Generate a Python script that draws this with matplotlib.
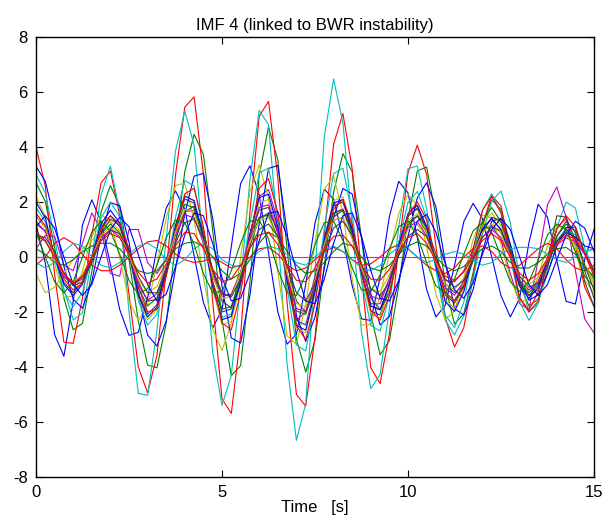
import numpy as np
import matplotlib
matplotlib.use("Agg")
import matplotlib.pyplot as plt

plt.rcParams['font.family'] = ['Liberation Sans', 'DejaVu Sans']
plt.rcParams['axes.unicode_minus'] = False

# time axis, one sample every 0.25 s
t = np.arange(0, 15.001, 0.25)

# --- IMF 4 curves (61 values each) ---
b1 = [1.2, -0.22, -2.82, -3.61, -1.61, 1.17, 2.08, 1.29,
      -0.27, -1.91, -2.85, -2.74, -1.48, 0.31, 1.78, 2.4,
      1.73, 0.05, -1.65, -2.58, -1.92, 0.38, 2.67, 3.32,
      2.26, 0.15, -1.99, -3.17, -2.81, -1.0, 1.24, 2.47,
      2.1, 0.71, -1.05, -2.25, -2.31, -0.73, 1.48, 2.75,
      2.33, 0.7, -1.18, -2.18, -1.76, -0.31, 1.29, 1.95,
      1.39, 0.0, -1.41, -2.18, -1.51, 0.52, 1.92, 1.44,
      -0.14, -1.61, -1.71, -0.09, 1.0]
g1 = [2.7, 2.02, 0.35, -1.5, -2.65, -2.41, -0.54, 1.64,
      2.6, 1.85, -0.09, -2.33, -3.93, -4.03, -2.42, 0.45,
      3.11, 4.46, 3.73, 0.97, -2.29, -4.32, -3.95, -0.93,
      2.97, 4.73, 3.53, 0.28, -2.98, -4.18, -3.02, -0.31,
      2.36, 3.76, 3.1, 0.69, -2.08, -3.56, -3.04, -1.06,
      1.41, 3.13, 3.27, 1.49, -1.01, -2.44, -2.06, -0.57,
      1.16, 2.08, 1.73, 0.46, -1.0, -1.78, -1.53, -0.62,
      0.43, 0.99, 0.66, -0.29, -0.8]
r1 = [4.0, 2.58, -0.63, -3.1, -3.14, -1.49, 0.81, 2.7,
      3.12, 1.52, -1.37, -4.0, -4.94, -3.58, -0.52, 2.99,
      5.45, 5.82, 3.02, -1.63, -5.16, -5.69, -2.86, 1.63,
      5.12, 5.66, 2.89, -1.66, -5.0, -5.42, -2.92, 0.83,
      4.1, 5.22, 3.2, -0.69, -4.03, -4.6, -2.79, 0.37,
      3.06, 4.07, 3.0, 0.4, -2.2, -3.27, -2.57, -0.73,
      1.16, 2.24, 1.85, 0.2, -1.47, -1.95, -1.27, -0.01,
      1.08, 1.4, 0.41, -1.1, -1.8]
c1 = [3.0, 2.33, 0.68, -1.16, -2.29, -2.03, -0.03, 2.27,
      3.3, 1.66, -1.98, -4.96, -5.03, -2.69, 0.67, 3.86,
      5.3, 4.07, 0.43, -3.47, -5.4, -4.3, -0.97, 2.81,
      5.33, 4.81, 0.88, -3.91, -6.67, -5.34, -0.53, 4.36,
      6.47, 4.88, 1.13, -2.74, -4.79, -4.27, -1.88, 1.11,
      3.21, 3.31, 1.76, -0.46, -2.3, -2.83, -2.13, -0.8,
      0.83, 2.03, 2.4, 1.25, -0.77, -2.0, -1.69, -0.43,
      1.07, 2.0, 1.78, 0.33, -0.5]
m2 = [0.3, 0.78, 0.75, -0.3, -0.5, 0.5, 1.6, 1.0,
      -0.6, -0.7, 1.0, 1.0, -0.2, -0.6, -0.1, 0.9,
      1.65, 1.7, 0.8, -0.5, -1.35, -1.4, -0.6, 0.8,
      2.2, 2.45, 1.3, -0.8, -2.3, -2.0, -0.7, 0.7,
      1.6, 1.75, 0.9, -0.6, -1.7, -1.7, -0.8, 0.5,
      1.5, 1.75, 1.0, -0.2, -0.85, -0.9, -0.5, 0.3,
      1.0, 1.15, 0.6, -0.6, -1.7, -1.9, -0.1, 1.9,
      2.55, 1.45, -0.5, -2.25, -2.76]
y1 = [2.2, 1.48, -0.23, -1.47, -1.42, -0.5, 0.72, 1.52,
      1.35, -0.02, -1.6, -2.3, -1.74, -0.29, 1.4, 2.6,
      2.68, 1.37, -0.73, -2.63, -3.4, -2.42, -0.03, 2.37,
      3.35, 2.15, -0.54, -2.87, -3.17, -1.72, 0.54, 2.46,
      2.94, 1.59, -0.79, -2.48, -2.45, -1.41, 0.12, 1.58,
      2.28, 1.86, 0.37, -1.36, -2.28, -1.97, -0.78, 0.63,
      1.52, 1.42, 0.46, -0.79, -1.62, -1.54, -0.7, 0.4,
      1.13, 1.04, 0.16, -0.85, -1.3]
k1 = [1.5, 1.07, 0.0, -0.92, -1.3, -0.92, 0.0, 1.07,
      1.5, 1.1, 0.1, -1.32, -2.08, -1.74, -0.46, 1.1,
      2.11, 1.96, 0.68, -0.95, -2.0, -1.89, -0.76, 0.68,
      1.71, 1.8, 0.86, -0.81, -2.31, -2.47, -1.17, 0.65,
      1.87, 2.0, 0.95, -0.68, -1.96, -2.11, -1.1, 0.4,
      1.49, 1.78, 1.06, -0.27, -1.38, -1.68, -1.07, 0.1,
      1.02, 1.4, 0.99, 0.0, -0.99, -1.4, -1.02, -0.1,
      1.5, 1.45, 0.6, -0.9, -1.8]
b2 = [3.3, 2.75, 1.35, -0.34, -1.54, -1.86, -0.9, 0.78,
      1.98, 1.86, 0.54, -1.34, -2.84, -3.24, -2.33, -0.45,
      1.58, 2.94, 3.04, 1.41, -1.06, -2.94, -3.13, -1.4,
      1.22, 3.22, 3.33, 0.89, -2.13, -3.07, -2.19, -0.42,
      1.43, 2.49, 2.29, 0.69, -1.33, -2.47, -2.16, -0.89,
      0.75, 2.15, 2.7, 1.82, -0.17, -1.88, -2.11, -1.18,
      0.22, 1.3, 1.41, 0.48, -0.83, -1.57, -1.38, -0.59,
      0.4, 1.07, 1.09, 0.14, -0.5]
g2 = [0.8, 0.57, 0.0, -0.71, -1.0, -0.71, 0.0, 0.85,
      1.2, 0.88, 0.08, -1.13, -1.78, -1.49, -0.4, 1.0,
      1.92, 1.78, 0.62, -0.9, -1.9, -1.8, -0.72, 0.58,
      1.44, 1.52, 0.72, -0.68, -1.96, -2.09, -0.99, 0.56,
      1.6, 1.71, 0.81, -0.62, -1.78, -1.92, -1.0, 0.33,
      1.25, 1.49, 0.89, -0.26, -1.3, -1.58, -1.01, 0.13,
      1.31, 1.8, 1.28, 0.0, -0.92, -1.3, -0.95, -0.08,
      0.76, 1.19, 0.97, 0.19, -0.59]
r2 = [-0.3, 0.0, 0.5, 0.7, 0.5, 0.1, -0.3, -0.5,
      -0.5, -0.3, 0.0, 0.3, 0.55, 0.6, 0.4, 0.1,
      -0.1, -0.2, -0.15, 0.0, -0.2, -0.4, -0.3, 0.0,
      0.3, 0.35, 0.1, -0.3, -0.5, -0.4, -0.1, 0.2,
      0.35, 0.2, -0.1, -0.3, -0.25, 0.0, 0.3, 0.45,
      0.3, 0.0, -0.3, -0.5, -0.6, -0.4, 0.0, 0.3,
      0.4, 0.2, -0.2, -0.4, -0.3, 0.0, 0.3, 0.5,
      0.3, -0.1, -0.4, -0.5, -0.3]
c2 = [1.8, 1.28, 0.0, -1.28, -1.8, -1.28, 0.0, 1.42,
      2.0, 1.46, 0.14, -1.58, -2.48, -2.08, -0.55, 1.45,
      2.78, 2.58, 0.9, -1.04, -2.19, -2.07, -0.83, 1.22,
      3.06, 3.23, 1.53, -1.12, -3.2, -3.42, -1.62, 1.05,
      3.03, 3.23, 1.53, -0.87, -2.49, -2.69, -1.4, 0.53,
      1.99, 2.38, 1.42, -0.42, -2.11, -2.57, -1.64, 0.16,
      1.68, 2.3, 1.63, 0.0, -1.63, -2.3, -1.68, -0.07,
      0.63, 0.99, 0.81, 0.16, 0.3]
m_flat = [0.0] * len(t)
y2 = [-0.6, -1.3, -1.1, -0.6, -0.1, 0.3, 0.6, 1.0,
      1.3, 0.95, 0.09, -1.45, -2.28, -1.91, -0.51, 1.15,
      2.21, 2.05, 0.71, -1.17, -2.47, -2.34, -0.94, 0.79,
      1.98, 2.09, 0.99, -0.9, -2.58, -2.76, -1.31, 0.71,
      2.05, 2.19, 1.04, -0.71, -2.05, -2.21, -1.15, 0.35,
      1.33, 1.58, 0.94, -0.3, -1.54, -1.88, -1.2, 0.11,
      1.17, 1.6, 1.14, 0.0, -0.85, -1.2, -0.88, -0.06,
      0.5, 0.79, 0.4, -0.3, -1.0]
k2 = [1.2, 0.95, 0.15, -0.6, -0.98, -0.8, -0.15, 0.85,
      1.38, 1.15, 0.3, -0.9, -1.6, -1.55, -0.65, 0.6,
      1.65, 1.85, 0.95, -0.5, -1.6, -1.85, -1.0, 0.4,
      1.4, 1.6, 1.05, -0.3, -1.6, -2.0, -1.2, 0.3,
      1.45, 1.7, 1.05, -0.3, -1.5, -1.9, -1.3, 0.1,
      1.15, 1.5, 1.1, 0.1, -0.95, -1.3, -1.05, -0.15,
      0.9, 1.45, 1.3, 0.3, -0.9, -1.4, -1.2, -0.35,
      0.75, 1.3, 0.9, -0.5, -1.5]
b3 = [2.0, 1.42, 0.0, -0.99, -1.4, -0.99, 0.0, 1.21,
      1.7, 1.24, 0.12, -1.39, -2.18, -1.83, -0.48, 1.15,
      2.21, 2.05, 0.71, -1.08, -2.28, -2.16, -0.86, 0.86,
      2.16, 2.28, 1.08, -0.87, -2.49, -2.66, -1.26, 0.68,
      1.96, 2.09, 0.99, -0.62, -1.78, -1.92, -1.0, 0.42,
      1.58, 1.88, 1.12, -0.32, -1.62, -1.98, -1.26, 0.1,
      1.02, 1.4, 0.99, 0.0, -1.07, -1.5, -1.1, -0.1,
      0.57, 0.89, 0.73, 0.4, 0.3]
g3 = [0.3, 0.1, -0.2, -0.3, -0.1, 0.2, 0.4, 0.5,
      0.5, 0.3, -0.1, -0.5, -0.6, -0.5, -0.1, 0.3,
      0.5, 0.55, 0.4, 0.0, -0.5, -0.8, -0.6, -0.1,
      0.5, 0.9, 0.7, 0.2, -0.3, -0.6, -0.5, -0.2,
      0.2, 0.5, 0.4, 0.0, -0.4, -0.5, -0.3, 0.1,
      0.4, 0.55, 0.4, 0.0, -0.35, -0.5, -0.35, 0.0,
      0.3, 0.4, 0.2, -0.2, -0.4, -0.4, -0.2, 0.1,
      0.3, 0.35, 0.1, -0.4, -0.7]
r3 = [1.6, 1.14, 0.1, -0.8, -1.2, -0.95, -0.1, 1.0,
      1.5, 1.2, 0.3, -1.1, -2.0, -1.9, -0.7, 1.0,
      2.3, 2.5, 1.1, -0.9, -2.4, -2.65, -1.3, 0.7,
      2.5, 2.85, 1.6, -0.6, -2.5, -3.0, -1.7, 0.4,
      1.75, 2.1, 1.2, -0.5, -1.95, -2.3, -1.4, 0.2,
      1.55, 2.0, 1.35, -0.2, -1.3, -1.6, -1.1, 0.3,
      1.7, 2.2, 1.6, 0.1, -1.5, -2.0, -1.6, -0.2,
      1.0, 1.5, 1.1, 0.1, -0.7]
c3 = [-0.2, -0.4, -0.2, 0.2, 0.5, 0.4, 0.0, -0.3,
      -0.4, -0.2, 0.1, 0.4, 0.5, 0.3, -0.1, -0.3,
      -0.1, 0.3, 0.5, 0.3, -0.1, -0.3, -0.35, -0.1,
      0.2, 0.4, 0.3, 0.1, -0.2, -0.3, 0.0, 0.3,
      0.4, 0.2, -0.1, -0.4, -0.5, -0.3, 0.1, 0.35,
      0.3, 0.0, -0.2, -0.1, 0.1, 0.2, 0.1, -0.1,
      -0.3, -0.2, 0.1, 0.3, 0.35, 0.35, 0.3, 0.1,
      -0.1, -0.2, 0.0, 0.2, 0.3]
m3 = [1.3, 0.92, 0.0, -0.71, -1.0, -0.71, 0.0, 0.71,
      1.0, 0.73, 0.07, -1.01, -1.58, -1.33, -0.35, 0.8,
      1.54, 1.42, 0.5, -0.68, -1.43, -1.35, -0.54, 0.72,
      1.8, 1.9, 0.9, -0.65, -1.87, -2.0, -0.95, 0.47,
      1.34, 1.43, 0.68, -0.5, -1.42, -1.54, -0.8, 0.29,
      1.08, 1.29, 0.77, -0.22, -1.13, -1.39, -0.88, 0.07,
      0.73, 1.0, 0.71, 0.0, -0.85, -1.2, -0.88, -0.05,
      0.44, 0.69, 0.57, 0.1, -0.5]
y3 = [1.5, 1.07, 0.0, -0.64, -0.9, -0.64, 0.0, 0.78,
      1.1, 0.8, 0.08, -0.82, -1.29, -1.08, -0.29, 0.9,
      1.73, 1.6, 0.56, -0.72, -1.52, -1.44, -0.58, 0.54,
      1.35, 1.43, 0.68, -0.59, -1.69, -1.81, -0.86, 0.47,
      1.34, 1.43, 0.68, -0.4, -1.16, -1.25, -0.65, 0.26,
      1.0, 1.19, 0.71, -0.19, -0.97, -1.19, -0.76, 0.08,
      0.88, 1.2, 0.85, 0.0, -0.71, -1.0, -0.73, -0.06,
      0.5, 0.79, 0.4, -0.3, -0.9]
k3 = [0.8, 0.7, 0.2, -0.6, -1.05, -0.9, -0.2, 0.6,
      0.98, 0.85, 0.25, -0.7, -1.3, -1.3, -0.55, 0.5,
      1.25, 1.38, 0.65, -0.45, -1.3, -1.45, -0.8, 0.3,
      1.0, 1.2, 0.75, -0.3, -1.3, -1.6, -0.95, 0.2,
      1.05, 1.3, 0.8, -0.25, -1.15, -1.4, -0.95, 0.05,
      0.75, 1.0, 0.75, -0.05, -0.8, -1.1, -0.85, -0.1,
      0.7, 1.1, 0.95, 0.25, -0.7, -1.1, -0.95, -0.3,
      0.55, 1.0, 0.7, -0.3, -1.2]
b4 = [1.1, 1.5, 1.05, 0.0, -1.0, -1.4, -1.0, 0.0,
      1.0, 1.45, 1.1, 0.1, -1.0, -1.6, -1.35, -0.35,
      0.8, 1.6, 1.5, 0.5, -0.75, -1.6, -1.5, -0.6,
      0.6, 1.6, 1.65, 0.75, -0.5, -1.6, -1.7, -0.8,
      0.5, 1.5, 1.6, 0.75, -0.5, -1.5, -1.6, -0.85,
      0.35, 1.3, 1.55, 0.9, -0.25, -1.2, -1.5, -0.95,
      0.1, 1.0, 1.4, 1.0, 0.0, -1.0, -1.4, -1.0,
      -0.1, 0.8, 1.3, 1.05, 0.2]
g4 = [0.9, 0.0, -0.9, -1.3, -0.9, 0.0, 0.9, 1.3,
      0.95, 0.1, -0.85, -1.35, -1.15, -0.3, 0.7, 1.35,
      1.25, 0.45, -0.6, -1.3, -1.25, -0.5, 0.5, 1.3,
      1.35, 0.65, -0.45, -1.3, -1.4, -0.65, 0.45, 1.25,
      1.3, 0.6, -0.4, -1.2, -1.25, -0.65, 0.3, 1.1,
      1.3, 0.75, -0.2, -1.05, -1.3, -0.8, 0.1, 0.95,
      1.25, 0.9, 0.0, -0.9, -1.25, -0.9, -0.1, 0.8,
      1.2, 1.0, 0.2, -0.7, -1.1]
r4 = [0.9, 0.6, 0.0, -0.6, -0.95, -0.7, 0.0, 0.6,
      0.85, 0.7, 0.1, -0.55, -0.95, -0.8, -0.25, 0.4,
      0.9, 0.85, 0.3, -0.45, -0.9, -0.8, -0.3, 0.35,
      0.8, 0.9, 0.45, -0.3, -0.85, -0.9, -0.4, 0.3,
      0.75, 0.8, 0.4, -0.3, -0.8, -0.85, -0.45, 0.2,
      0.7, 0.85, 0.5, -0.15, -0.7, -0.85, -0.55, 0.05,
      0.6, 0.85, 0.6, 0.0, -0.6, -0.85, -0.6, -0.05,
      0.5, 0.8, 0.65, 0.15, -0.5]

# matlab style colour order b, g, r, c, m, y, k
cols = [(0, 0, 1), (0, 0.5, 0), (1, 0, 0), (0, 0.75, 0.75),
        (0.75, 0, 0.75), (0.75, 0.75, 0), (0.25, 0.25, 0.25)]
courbes = [b1, g1, r1, c1, m2, y1, k1,
           b2, g2, r2, c2, m_flat, y2, k2,
           b3, g3, r3, c3, m3, y3, k3,
           b4, g4, r4]

fig = plt.figure(figsize=(6.03, 5.16), dpi=100)
ax = fig.add_axes([0.0597, 0.0756, 0.9254, 0.8527])

for i, y in enumerate(courbes):
    col = cols[i % 7]
    if y is m_flat:
        col = (1, 0, 1)
    ax.plot(t, y, color=col, linewidth=0.8, solid_joinstyle='round')

ax.set_xlim(0, 15)
ax.set_ylim(-8, 8)
ax.set_xticks([0, 5, 10, 15])
ax.set_yticks(range(-8, 9, 2))
ax.tick_params(direction='in', length=5, width=0.8, top=True, right=True,
               labelsize=12, pad=6)
for s in ax.spines.values():
    s.set_linewidth(1.0)

ax.set_title("IMF 4 (linked to BWR instability)", fontsize=12, pad=5)
ax.set_xlabel("Time   [s]", fontsize=12, labelpad=0)

fig.savefig("out.png", dpi=100)
